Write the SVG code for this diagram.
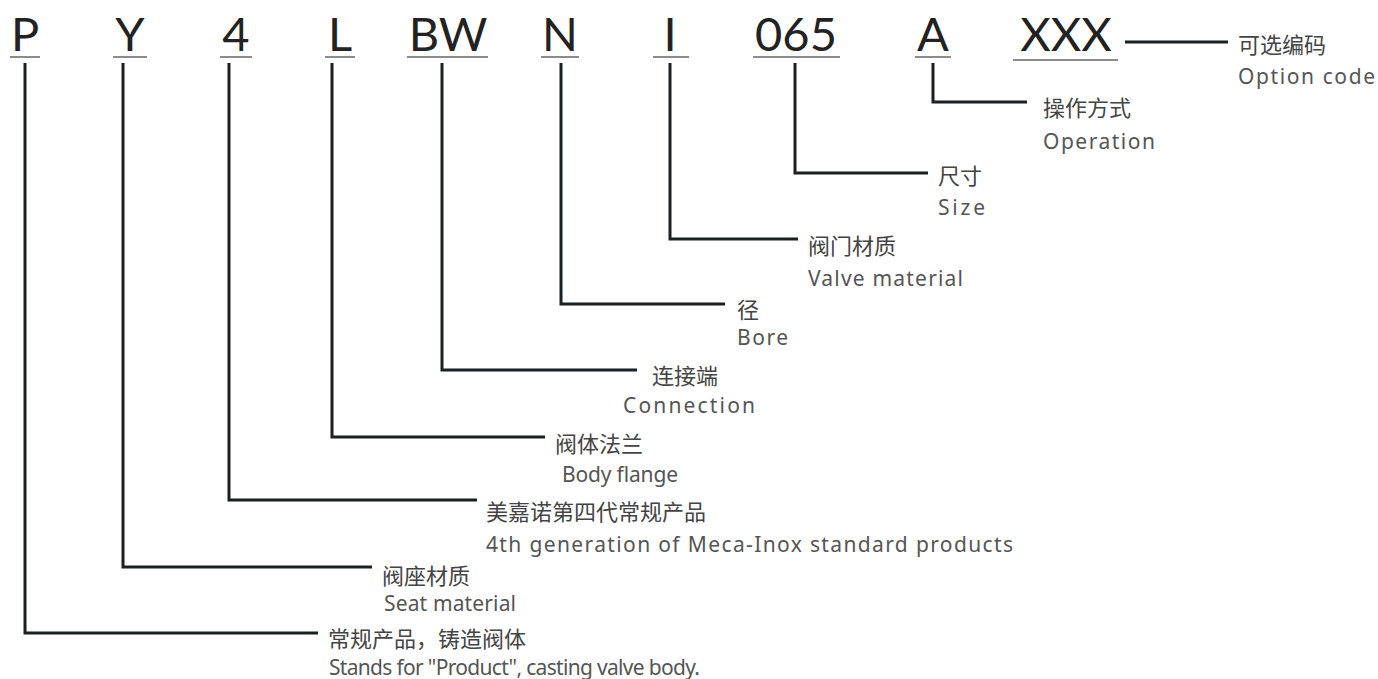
<svg xmlns="http://www.w3.org/2000/svg" width="1378" height="679" viewBox="0 0 1378 679">
<style>
.code{font-family:Lato,"Noto Sans",sans-serif;font-size:47px;fill:#222;text-anchor:middle}
.ul{stroke:#666;stroke-width:1.5;fill:none}
.cn{font-family:"Noto Sans CJK SC","Noto Sans",sans-serif;font-size:22px;fill:#444}
.en{font-family:"Noto Sans",Lato,sans-serif;font-size:21px;fill:#555}
.ln{stroke:#1b2020;stroke-width:3;fill:none;stroke-linejoin:miter}
</style>
<rect width="1378" height="679" fill="#fff"/>
<g id="codes">
<g id="c-P"><text class="code" x="25" y="51">P</text><line class="ul" x1="10" y1="57" x2="40" y2="57"/></g>
<g id="c-Y"><text class="code" x="130" y="51">Y</text><line class="ul" x1="113" y1="57" x2="147" y2="57"/></g>
<g id="c-4"><text class="code" x="236" y="51">4</text><line class="ul" x1="220" y1="57" x2="252" y2="57"/></g>
<g id="c-L"><text class="code" x="340" y="51">L</text><line class="ul" x1="325" y1="57" x2="355" y2="57"/></g>
<g id="c-BW"><text class="code" x="448" y="51">BW</text><line class="ul" x1="407" y1="57" x2="488" y2="57"/></g>
<g id="c-N"><text class="code" x="560" y="51">N</text><line class="ul" x1="541" y1="57" x2="579" y2="57"/></g>
<g id="c-I"><text class="code" x="670" y="51">I</text><line class="ul" x1="653" y1="57" x2="689" y2="57"/></g>
<g id="c-065"><text class="code" x="796" y="51">065</text><line class="ul" x1="753" y1="57" x2="840" y2="57"/></g>
<g id="c-A"><text class="code" x="933" y="51">A</text><line class="ul" x1="915" y1="57" x2="951" y2="57"/></g>
<g id="c-XXX"><text class="code" x="1066" y="51">XXX</text><line class="ul" x1="1013" y1="60" x2="1118" y2="60"/></g>
</g>
<g id="connectors">
<polyline class="ln" points="25,63 25,633 318,633"/>
<polyline class="ln" points="123,63 123,567 372,567"/>
<polyline class="ln" points="229,63 229,500 477,500"/>
<polyline class="ln" points="332,63 332,437 545,437"/>
<polyline class="ln" points="442,63 442,370 637,370"/>
<polyline class="ln" points="561,63 561,304 725,304"/>
<polyline class="ln" points="670,63 670,239 798,239"/>
<polyline class="ln" points="795,63 795,173 928,173"/>
<polyline class="ln" points="933,63 933,102 1027,102"/>
<line class="ln" x1="1125" y1="42" x2="1228" y2="42"/>
</g>
<g id="labels">
<g id="l-XXX"><text class="cn" x="1238" y="53">可选编码</text><text class="en" x="1238" y="84" textLength="137">Option code</text></g>
<g id="l-A"><text class="cn" x="1043" y="116">操作方式</text><text class="en" x="1043" y="149" textLength="112">Operation</text></g>
<g id="l-065"><text class="cn" x="938" y="184">尺寸</text><text class="en" x="938" y="215" textLength="47">Size</text></g>
<g id="l-I"><text class="cn" x="808" y="254">阀门材质</text><text class="en" x="808" y="286" textLength="155">Valve material</text></g>
<g id="l-N"><text class="cn" x="737" y="318">径</text><text class="en" x="737" y="345" textLength="51">Bore</text></g>
<g id="l-BW"><text class="cn" x="652" y="384">连接端</text><text class="en" x="623" y="413" textLength="132">Connection</text></g>
<g id="l-L"><text class="cn" x="555" y="452">阀体法兰</text><text class="en" x="562" y="482" textLength="116">Body flange</text></g>
<g id="l-4"><text class="cn" x="486" y="520">美嘉诺第四代常规产品</text><text class="en" x="486" y="552" textLength="527">4th generation of Meca-Inox standard products</text></g>
<g id="l-Y"><text class="cn" x="382" y="584">阀座材质</text><text class="en" x="384" y="611" textLength="132">Seat material</text></g>
<g id="l-P"><text class="cn" x="328" y="647">常规产品，铸造阀体</text><text class="en" x="329" y="675" textLength="371">Stands for "Product", casting valve body.</text></g>
</g>
</svg>
